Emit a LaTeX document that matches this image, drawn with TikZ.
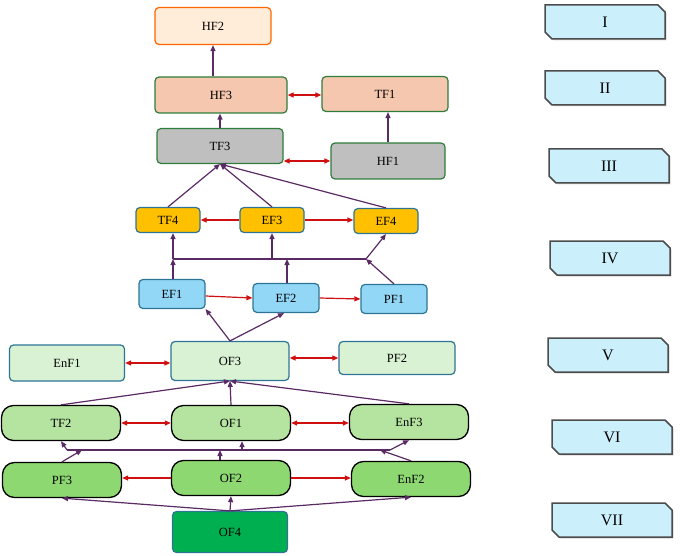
\documentclass[tikz,border=0pt]{standalone}
\usepackage{fontspec}
\setmainfont{Liberation Serif}
\usetikzlibrary{arrows.meta,calc,shadows}
\definecolor{pur}{HTML}{5A2A64}
\definecolor{rd}{HTML}{D01010}
\definecolor{teal}{HTML}{2E7595}
\definecolor{grn}{HTML}{2E7D3A}
\begin{document}
\begin{tikzpicture}[x=1pt,y=-1pt,
 box/.style={draw,line width=1.2pt,rounded corners=4pt,minimum width=#1,font=\fontsize{12.5}{14}\selectfont,inner sep=0pt},
 box/.default=120pt,
 pill/.style={draw=black,line width=1.3pt,rounded corners=12pt,minimum width=119pt,minimum height=35pt,font=\fontsize{12.5}{14}\selectfont},
 up/.style={pur,line width=1.2pt,-{Triangle[length=6pt,width=5pt]}},
 ln/.style={pur,line width=1.2pt},
 rr/.style={rd,line width=1.2pt,-{Triangle[length=6pt,width=5pt]}},
 rb/.style={rd,line width=1.2pt,{Triangle[length=6pt,width=5pt]}-{Triangle[length=6pt,width=5pt]}},
 lvl/.style={fill=cyan!20!white,draw=gray!60!black,line width=1.5pt,drop shadow={shadow xshift=1.5pt,shadow yshift=-1.5pt,opacity=0.3}}]
\useasboundingbox (0,0) rectangle (685,556);
% level labels
\foreach \cx/\cy/\t/\n in {605/22/I/l1,605/88/II/l2,609/166/III/l3,610/258/IV/l4,608/355/V/l5,612/437/VI/l6,612/520/VII/l7}{
 \path[lvl] (\cx-60,\cy-17) -- (\cx+53,\cy-17) -- (\cx+60,\cy-10) -- (\cx+60,\cy+17) -- (\cx-53,\cy+17) -- (\cx-60,\cy+10) -- cycle;
 \node[font=\fontsize{16}{18}\selectfont] (\n) at (\cx,\cy) {\t};
}
% nodes
\node[box=116pt,minimum height=37pt,draw=orange!80!red,fill=orange!15!white] (HF2) at (213,26) {HF2};
\node[box=132pt,minimum height=36pt,draw=grn,fill={rgb,255:red,244;green,199;blue,174}] (HF3) at (221,95) {HF3};
\node[box=126pt,minimum height=35pt,draw=grn,fill={rgb,255:red,244;green,199;blue,174}] (TF1) at (385,94) {TF1};
\node[box=126pt,minimum height=35pt,draw=grn,fill=gray!50] (TF3) at (220,146) {TF3};
\node[box=114pt,minimum height=36pt,draw=grn,fill=gray!50] (HF1) at (388,161) {HF1};
\node[box=64pt,minimum height=25pt,draw=teal,fill={rgb,255:red,255;green,192;blue,0}] (TF4) at (168,220) {TF4};
\node[box=64pt,minimum height=25pt,draw=teal,fill={rgb,255:red,255;green,192;blue,0}] (EF3) at (272,220) {EF3};
\node[box=64pt,minimum height=25pt,draw=teal,fill={rgb,255:red,255;green,192;blue,0}] (EF4) at (386,221) {EF4};
\node[box=66pt,minimum height=29pt,draw=teal,fill={rgb,255:red,147;green,215;blue,247}] (EF1) at (172,294) {EF1};
\node[box=66pt,minimum height=29pt,draw=teal,fill={rgb,255:red,147;green,215;blue,247}] (EF2) at (286,298) {EF2};
\node[box=66pt,minimum height=29pt,draw=teal,fill={rgb,255:red,147;green,215;blue,247}] (PF1) at (394,299) {PF1};
\node[box=115pt,minimum height=36pt,draw=teal,fill={rgb,255:red,217;green,242;blue,211}] (EnF1) at (67,363) {EnF1};
\node[box=118pt,minimum height=39pt,draw=teal,fill={rgb,255:red,217;green,242;blue,211}] (OF3) at (230,361) {OF3};
\node[box=116pt,minimum height=33pt,draw=teal,fill={rgb,255:red,217;green,242;blue,211}] (PF2) at (397,358) {PF2};
\node[pill,fill={rgb,255:red,181;green,227;blue,160}] (TF2) at (61,423) {TF2};
\node[pill,fill={rgb,255:red,181;green,227;blue,160}] (OF1) at (231,423) {OF1};
\node[pill,fill={rgb,255:red,181;green,227;blue,160}] (EnF3) at (409,422) {EnF3};
\node[pill,fill={rgb,255:red,142;green,216;blue,114}] (PF3) at (62,480) {PF3};
\node[pill,fill={rgb,255:red,142;green,216;blue,114}] (OF2) at (231,478) {OF2};
\node[pill,fill={rgb,255:red,142;green,216;blue,114}] (EnF2) at (411,479) {EnF2};
\node[box=115pt,minimum height=41pt,draw=teal,fill={rgb,255:red,0;green,176;blue,80}] (OF4) at (230,532) {OF4};
% top
\draw[up] (HF3.north -| HF2.south) -- (HF2.south);
\draw[up] (TF3.north) -- (TF3.north |- HF3.south);
\draw[up] (HF1.north) -- (HF1.north |- TF1.south);
\draw[rb] (HF3.east) -- (HF3.east -| TF1.west);
\draw[rb] (HF1.west -| TF3.east) -- (HF1.west);
\coordinate (t3b) at (220,164);
\draw[up] (TF4.north) -- (t3b);
\draw[up] (EF3.north) -- (t3b);
\draw[up] (EF4.north) -- (t3b);
\draw[rr] (EF3.west) -- (TF4.east);
\draw[rr] (EF3.east) -- (EF3.east -| EF4.west);
% bus IV
\coordinate (b1) at (173,259); \coordinate (b2) at (272,259); \coordinate (b3) at (287,259); \coordinate (b4) at (366,259);
\draw[ln] (b1) -- (b4);
\draw[up] (EF1.north -| b1) -- (b1);
\draw[up] (b1) -- (b1 |- TF4.south);
\draw[up] (b2) -- (EF3.south);
\draw[up] (EF2.north -| b3) -- (b3);
\draw[up] (PF1.north) -- (b4);
\draw[up] (b4) -- (EF4.south);
\draw[rr] ([yshift=-2pt]EF1.east) -- (EF2.west);
\draw[rr] (EF2.east) -- (PF1.west);
\draw[up] (OF3.north) -- (EF1.south east);
\draw[up] (OF3.north) -- ([xshift=-2pt]EF2.south);
\draw[rb] (EnF1.east) -- (EnF1.east -| OF3.west);
\draw[rb] (PF2.west -| OF3.east) -- (PF2.west);
% VI
\coordinate (o3b) at (230,381);
\draw[up] (TF2.north) -- (o3b);
\draw[up] (OF1.north) -- (o3b);
\draw[up] (EnF3.north) -- (o3b);
\draw[rb] (TF2.east) -- (OF1.west);
\draw[rb] (OF1.east) -- (OF1.east -| EnF3.west);
\coordinate (c1) at (67,450); \coordinate (c2) at (82,450); \coordinate (c3) at (220,450); \coordinate (c4) at (242,450); \coordinate (c5) at (380,450); \coordinate (c6) at (390,450);
\draw[ln] (c1) -- (c6);
\draw[up] (PF3.north) -- (c2);
\draw[up] (c1) -- (TF2.south);
\draw[up] (OF2.north -| c3) -- (c3);
\draw[up] (c4) -- (c4 |- OF1.south);
\draw[up] (EnF2.north) -- (c5);
\draw[up] (c6) -- (EnF3.south);
\draw[rr] (OF2.west) -- (OF2.west -| PF3.east);
\draw[rr] (OF2.east) -- (OF2.east -| EnF2.west);
\draw[up] (OF4.north) -- (PF3.south);
\draw[up] (OF4.north) -- (OF2.south);
\draw[up] (OF4.north) -- (EnF2.south);
\end{tikzpicture}
\end{document}
